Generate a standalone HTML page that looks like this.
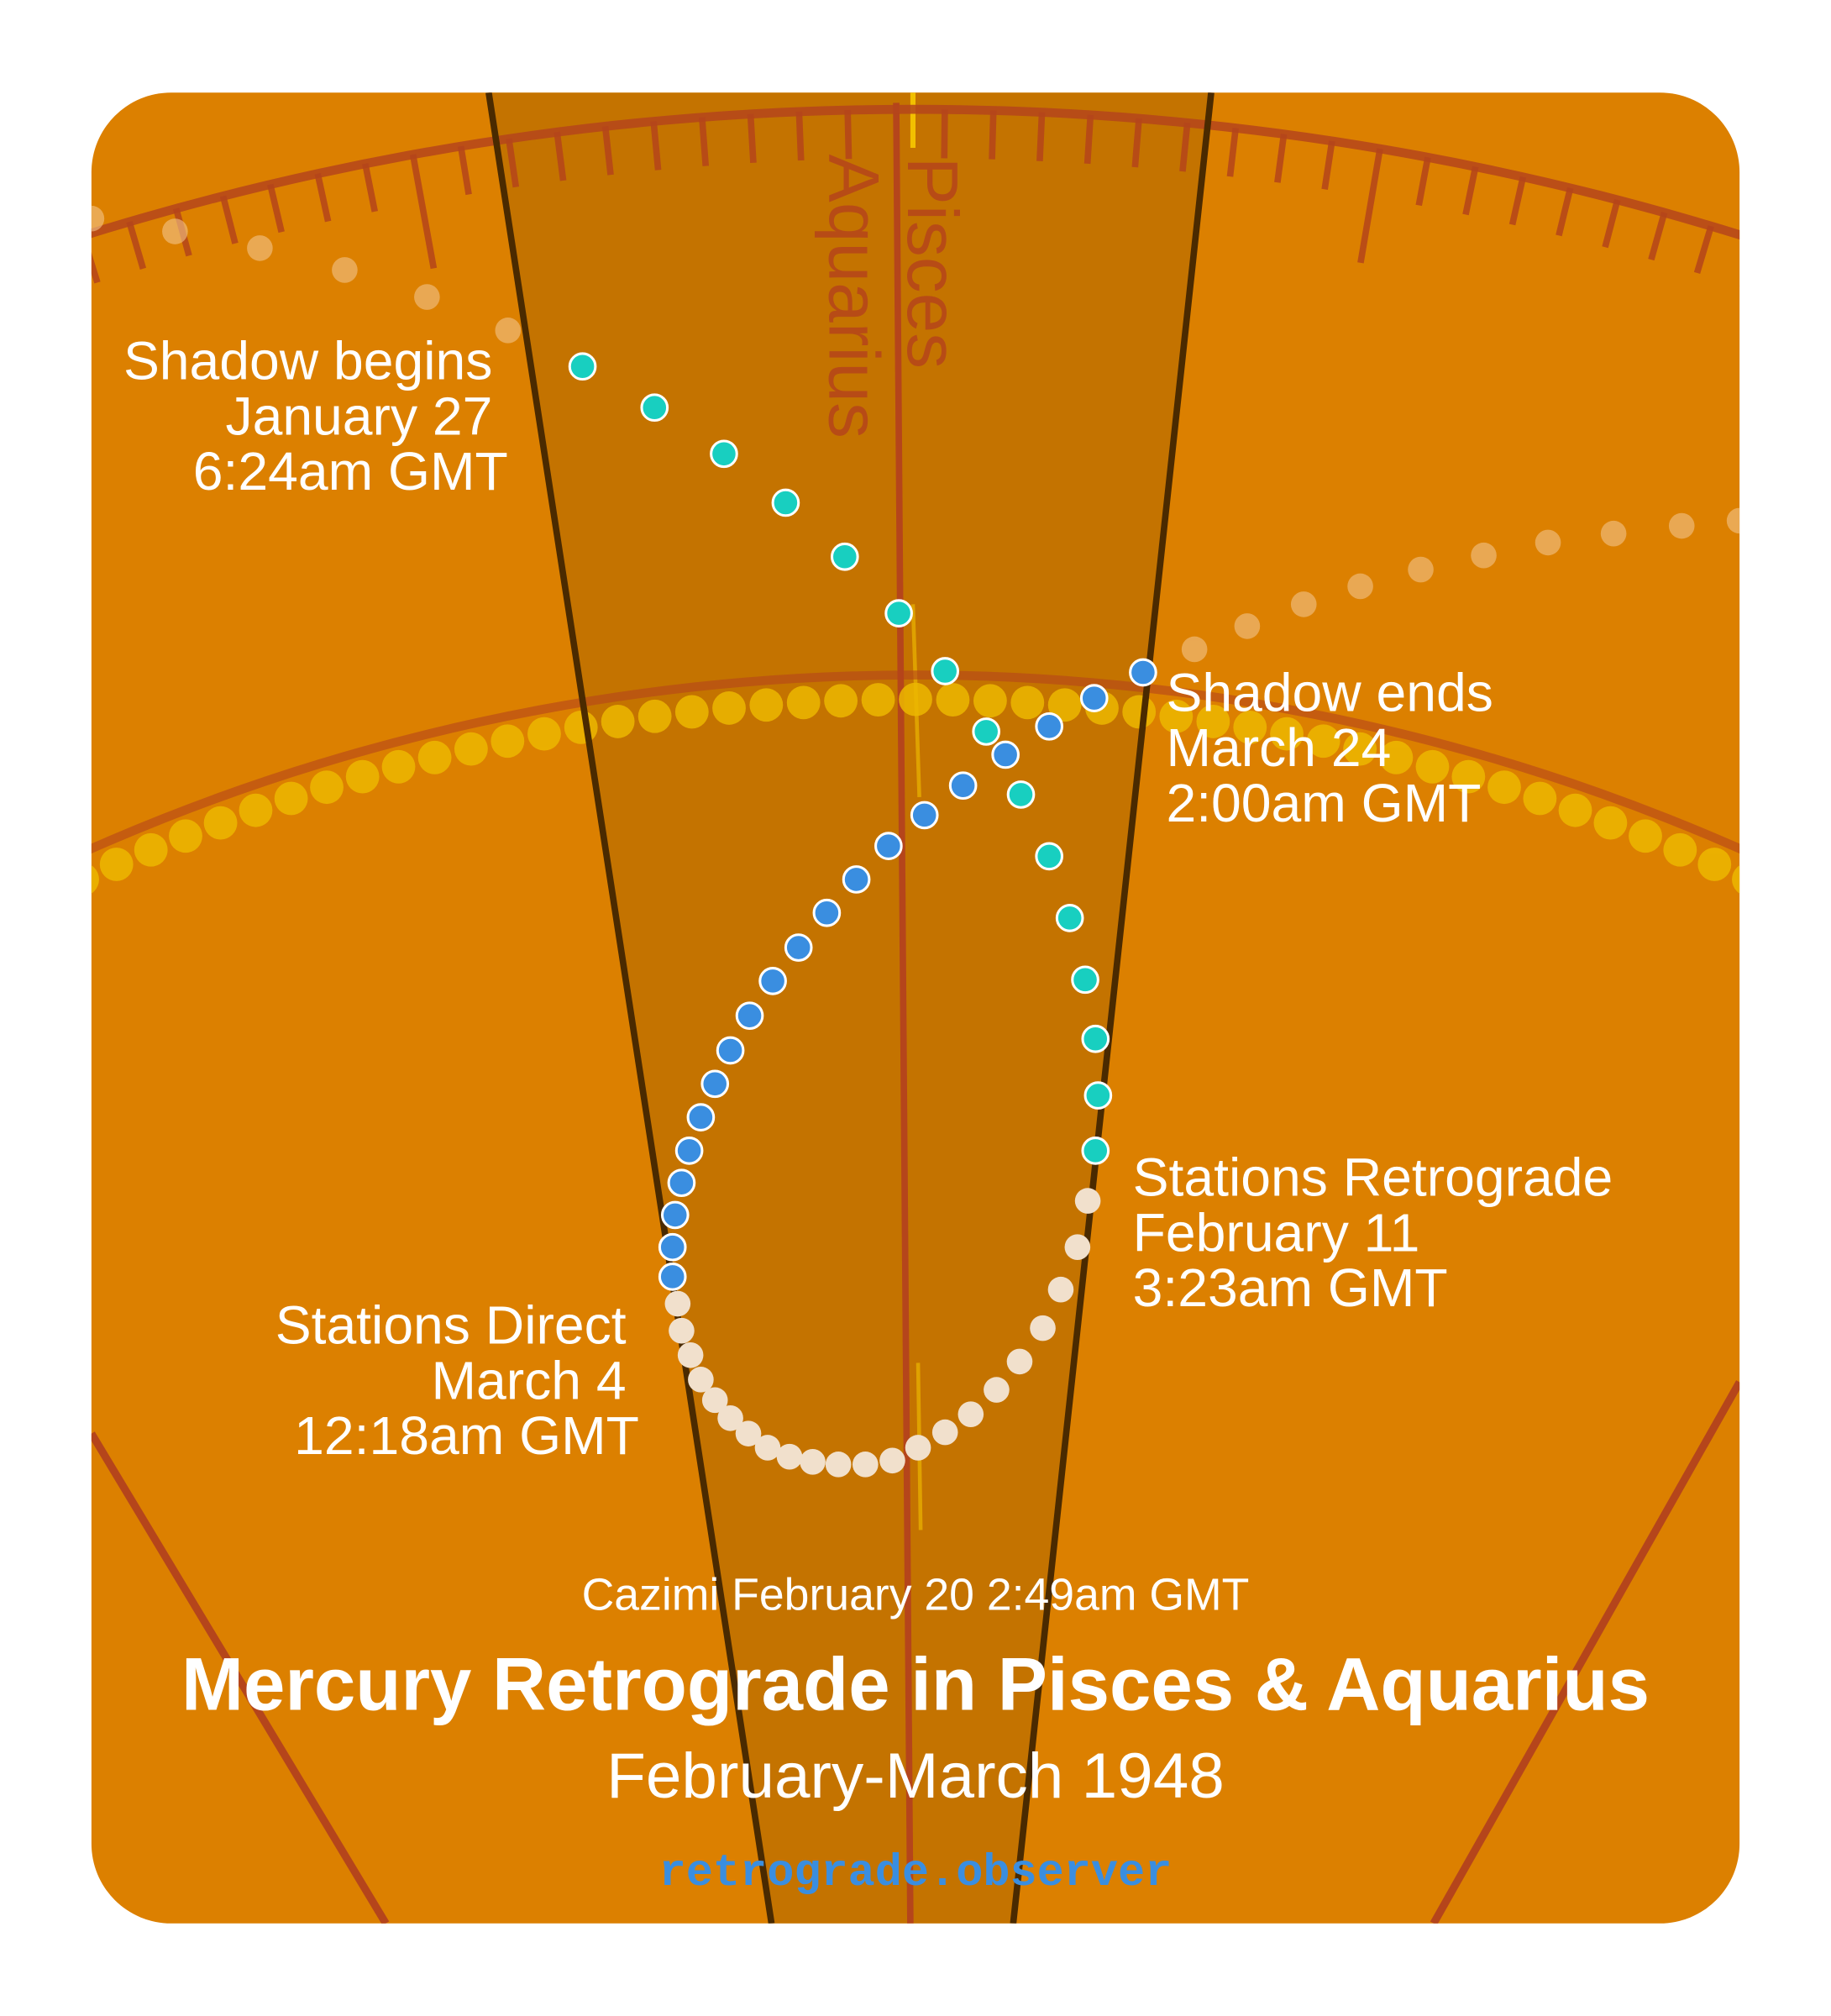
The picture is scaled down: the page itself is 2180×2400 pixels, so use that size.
<!DOCTYPE html>
<html><head><meta charset="utf-8"><style>
html,body{margin:0;padding:0;background:#fff;width:2180px;height:2400px;overflow:hidden}
svg{display:block}
text{font-family:"Liberation Sans",sans-serif}
</style></head><body>
<svg id="s" width="2180" height="2400" viewBox="0 0 1424 1568" xmlns="http://www.w3.org/2000/svg">
<defs><clipPath id="c"><rect x="71" y="72" width="1282" height="1424" rx="62"/></clipPath></defs>
<rect x="71" y="72" width="1282" height="1424" rx="62" fill="#dc8000"/>
<g clip-path="url(#c)" id="g">
<polygon points="380,72 942,72 788,1496 600,1496" fill="#c47300"/>
<line x1="71" y1="1115" x2="300" y2="1496" stroke="#b5451b" stroke-width="6"/>
<line x1="1353" y1="1075" x2="1115" y2="1496" stroke="#b5451b" stroke-width="6"/>
<line x1="697" y1="80" x2="708" y2="1496" stroke="#b5451b" stroke-width="5"/>
<line x1="710" y1="72" x2="710" y2="115" stroke="#f2c000" stroke-width="4"/>
<line x1="710" y1="470" x2="715" y2="620" stroke="#f2c000" stroke-width="3" opacity="0.6"/>
<line x1="714" y1="1060" x2="716" y2="1190" stroke="#f2c000" stroke-width="3" opacity="0.6"/>
<circle cx="710" cy="2251" r="2166" fill="none" stroke="#b5451b" stroke-width="7" opacity="0.85"/>
<circle cx="712" cy="2114" r="1589" fill="none" stroke="#b5451b" stroke-width="7" opacity="0.6"/>
<g id="ticks" stroke="#b5451b" stroke-width="5" opacity="0.85"></g>
<g id="sun" fill="#edb800" opacity="0.85"></g>
<line x1="380" y1="72" x2="600" y2="1496" stroke="#4a2a00" stroke-width="5"/>
<line x1="942" y1="72" x2="788" y2="1496" stroke="#4a2a00" stroke-width="5"/>
<text transform="translate(645,120) rotate(90)" font-size="56" fill="#b5451b" opacity="0.85">Aquarius</text>
<text transform="translate(706,122) rotate(90)" font-size="56" fill="#b5451b" opacity="0.85">Pisces</text>
<g id="faint" fill="#f3c48a" opacity="0.6"></g>
<g id="white" fill="#f1e0cc"></g>
<g id="teal" fill="#18cfc0" stroke="#fff" stroke-width="2"></g>
<g id="blue" fill="#3a8ee0" stroke="#fff" stroke-width="2"></g>
</g>
<g fill="#fff" font-size="42">
<text x="383" y="295" text-anchor="end">Shadow begins</text>
<text x="383" y="338" text-anchor="end">January 27</text>
<text x="395" y="381" text-anchor="end">6:24am GMT</text>
<text x="907" y="553">Shadow ends</text>
<text x="907" y="596">March 24</text>
<text x="907" y="639">2:00am GMT</text>
<text x="881" y="930">Stations Retrograde</text>
<text x="881" y="973">February 11</text>
<text x="881" y="1016">3:23am GMT</text>
<text x="487" y="1045" text-anchor="end">Stations Direct</text>
<text x="487" y="1088" text-anchor="end">March 4</text>
<text x="497" y="1131" text-anchor="end">12:18am GMT</text>
<text x="712" y="1252" text-anchor="middle" font-size="35">Cazimi February 20 2:49am GMT</text>
<text x="712" y="1330" text-anchor="middle" font-size="58" font-weight="bold">Mercury Retrograde in Pisces &amp; Aquarius</text>
<text x="712" y="1398" text-anchor="middle" font-size="50">February-March 1948</text>
<text x="712" y="1466" text-anchor="middle" font-size="35" font-weight="bold" fill="#3a8ee0" style="font-family:'Liberation Mono',monospace">retrograde.observer</text>
</g>
</svg>
<script>
var NS="http://www.w3.org/2000/svg";
function el(p,t,a){var e=document.createElementNS(NS,t);for(var k in a)e.setAttribute(k,a[k]);document.getElementById(p).appendChild(e);}
var cx=710,cy=2251,R=2166,a0=Math.asin((697-710)/R)*180/Math.PI;
for(var i=-22;i<=22;i++){var a=(a0+i)*Math.PI/180;var L=(i%10==0)?(i==0?0:90):38;if(!L)continue;
var s=Math.sin(a),c=Math.cos(a);el("ticks","line",{x1:cx+R*s,y1:cy-R*c,x2:cx+(R-L)*s,y2:cy-(R-L)*c});}
var scx=712,scy=2114,sR=1570;
for(var j=-26;j<=26;j++){var b=(j*1.06)*Math.PI/180;el("sun","circle",{cx:scx+sR*Math.sin(b),cy:scy-sR*Math.cos(b),r:13});}
function dots(p,arr,r){for(var i=0;i<arr.length;i+=2)el(p,"circle",{cx:arr[i],cy:arr[i+1],r:r});}
dots("faint",[71,170,136,180,202,193,268,210,332,231,395,257,929,505,970,487,1014,470,1058,456,1105,443,1154,432,1204,422,1255,415,1308,409,1353,405],10);
dots("white",[846,934,838,970,825,1003,811,1033,793,1059,775,1081,755,1100,735,1114,714,1126,694,1136,673,1139,652,1139,632,1137,614,1133,597,1126,582,1115,568,1103,556,1089,545,1073,537,1054,530,1035,527,1014],10);
dots("teal",[453,285,509,317,563,353,611,391,657,433,699,477,735,522,767,569,794,618,816,666,832,714,844,762,852,808,854,852,852,895],10);
dots("blue",[523,993,523,970,525,945,530,920,536,895,545,869,556,843,568,817,583,790,601,763,621,737,643,710,666,684,691,658,719,634,749,611,782,587,816,565,851,543,889,523],10);
</script>
</body></html>
